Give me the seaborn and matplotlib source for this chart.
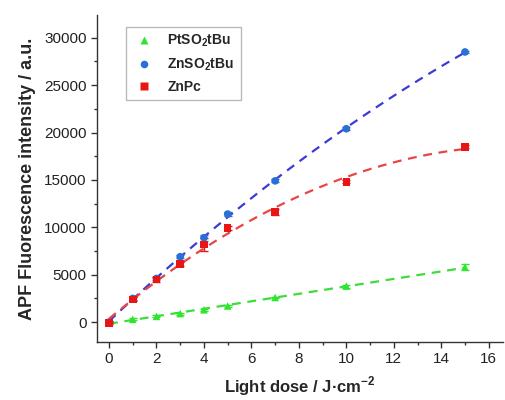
import numpy as np
import pandas as pd
import matplotlib
matplotlib.use('Agg')
import matplotlib.pyplot as plt
from matplotlib.ticker import MultipleLocator
import seaborn as sns

dose = [0, 1, 2, 3, 4, 5, 7, 10, 15]
pt_so2tbu = [0, 300, 600, 900, 1300, 1700, 2600, 3800, 5800]
zn_so2tbu = [0, 2500, 4600, 6900, 8900, 11400, 14900, 20400, 28500]
znpc = [-100, 2400, 4500, 6100, 8200, 9900, 11600, 14800, 18500]
pt_err = [100, 100, 100, 100, 100, 100, 100, 150, 300]
zn_err = [100, 150, 200, 150, 300, 200, 150, 150, 150]
znpc_err = [150, 200, 300, 200, 700, 200, 350, 150, 150]

names = ['PtSO$_\\mathbf{2}$tBu', 'ZnSO$_\\mathbf{2}$tBu', 'ZnPc']
point_colors = ['#2ee62e', '#2a6fd6', '#e81515']
line_colors = ['#3ddc3d', '#3b3bd8', '#e84545']
markers = ['^', 'o', 's']

df = pd.DataFrame({
    'dose': dose * 3,
    'value': pt_so2tbu + zn_so2tbu + znpc,
    'err': pt_err + zn_err + znpc_err,
    'sample': [n for n in names for _ in dose],
})

sns.set_style('ticks')
plt.rcParams['font.family'] = ['Liberation Sans', 'DejaVu Sans']
plt.rcParams['mathtext.fontset'] = 'custom'
plt.rcParams['mathtext.rm'] = 'Liberation Sans'
plt.rcParams['mathtext.bf'] = 'Liberation Sans:bold'

fig = plt.figure(figsize=(5.06, 4.0), dpi=100)
ax = fig.add_axes([0.192, 0.145, 0.802, 0.8175])

# fitted trend lines
xs = np.linspace(0, 15, 100)
fits = [np.polyfit(dose, pt_so2tbu, 1), np.polyfit(dose, zn_so2tbu, 2), np.polyfit(dose, znpc, 2)]
for p, c in zip(fits, line_colors):
    sns.lineplot(x=xs, y=np.polyval(p, xs), ax=ax, color=c, lw=1.6,
                 linestyle=(0, (4, 3)), zorder=2)

for name, c in zip(names, point_colors):
    sub = df[df['sample'] == name]
    ax.errorbar(sub['dose'], sub['value'], yerr=sub['err'], fmt='none',
                ecolor=c, elinewidth=1, capsize=3, zorder=3)

sns.scatterplot(data=df, x='dose', y='value', hue='sample', style='sample',
                palette=dict(zip(names, point_colors)),
                markers=dict(zip(names, markers)), s=30, edgecolor='none',
                ax=ax, zorder=4)

ax.set_xlim(-0.5, 16.6)
ax.set_ylim(-2100, 32400)
ax.xaxis.set_major_locator(MultipleLocator(2))
ax.xaxis.set_minor_locator(MultipleLocator(1))
ax.yaxis.set_major_locator(MultipleLocator(5000))
ax.yaxis.set_minor_locator(MultipleLocator(2500))
ax.tick_params(which='major', length=4, width=1, labelsize=11, colors='#333333')
ax.tick_params(which='minor', length=2.5, width=1, colors='#333333')
ax.tick_params(axis='both', labelcolor='#222222')
for s in ['top', 'right']:
    ax.spines[s].set_visible(False)
for s in ['left', 'bottom']:
    ax.spines[s].set_linewidth(1)
    ax.spines[s].set_color('#333333')

ax.set_xlabel('Light dose / J·cm$^{\\mathbf{-2}}$', fontsize=12, fontweight='bold', labelpad=6)
ax.set_ylabel('APF Fluorescence intensity / a.u.', fontsize=13, fontweight='bold', labelpad=6)

handles, labels = ax.get_legend_handles_labels()
leg = ax.legend(handles, labels, loc='upper left', bbox_to_anchor=(0.055, 0.985),
                frameon=True, fancybox=False, edgecolor='#aaaaaa',
                prop={'weight': 'bold', 'size': 10}, handletextpad=0.9,
                handlelength=1.6, borderpad=0.45, labelspacing=0.5)
leg.get_frame().set_linewidth(1)

fig.savefig('out.png', dpi=100)
